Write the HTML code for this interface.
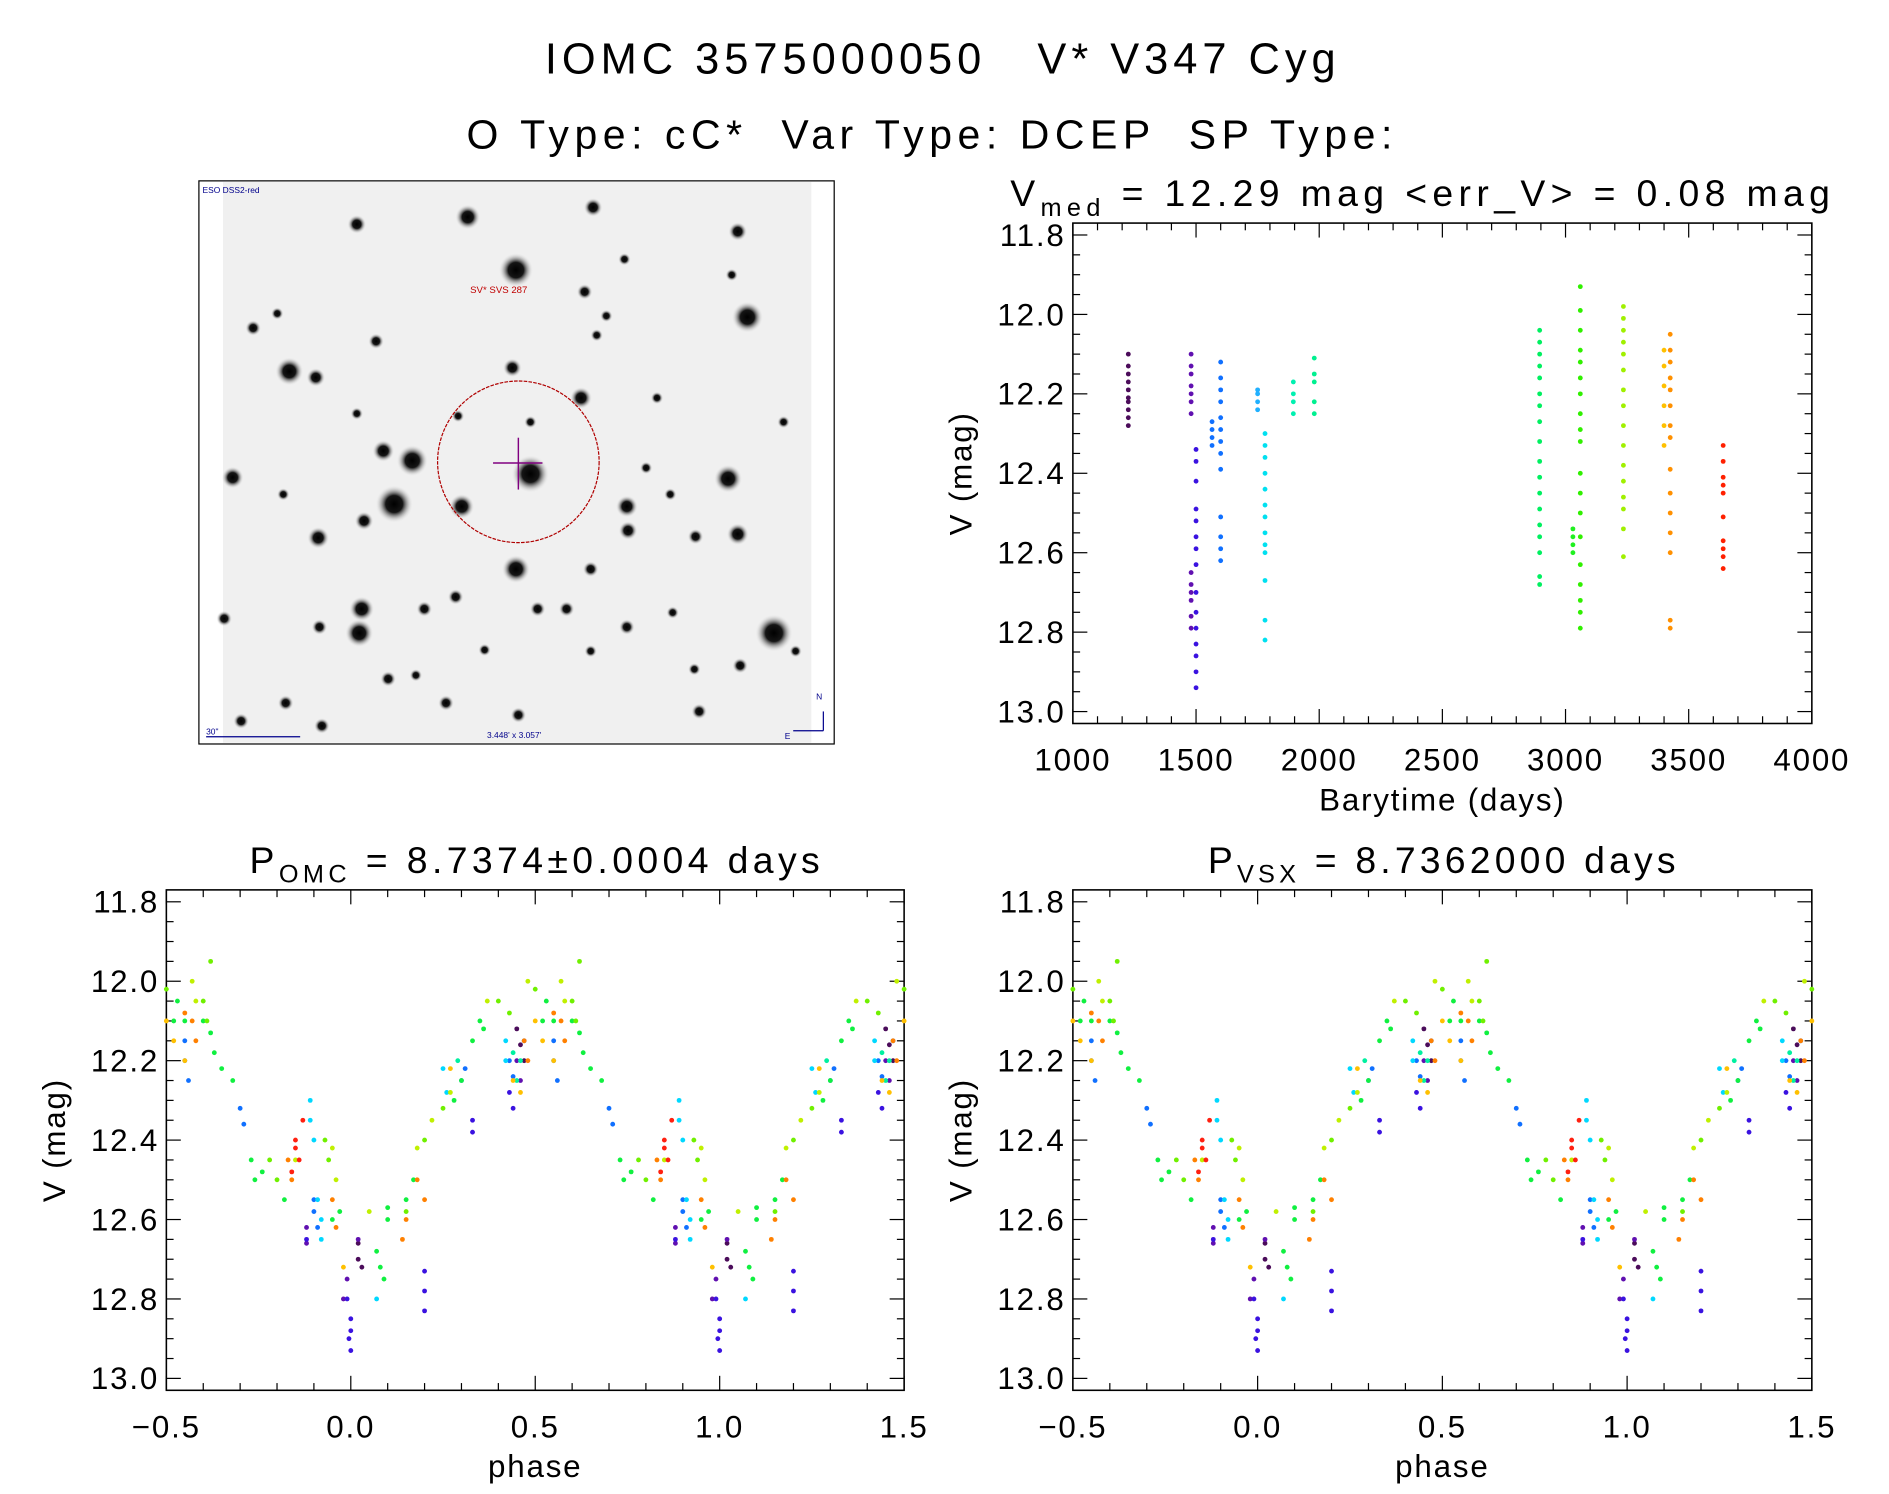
<!DOCTYPE html>
<html><head><meta charset="utf-8"><style>
html,body{margin:0;padding:0;background:#fff;}
svg{display:block;font-family:"Liberation Sans","DejaVu Sans",sans-serif;}
</style></head><body>
<svg id="fig" width="1889" height="1494" viewBox="0 0 1567 1239" preserveAspectRatio="none" xmlns="http://www.w3.org/2000/svg">
<defs>
<radialGradient id="star"><stop offset="0" stop-color="#000"/><stop offset="0.45" stop-color="#151515"/><stop offset="1" stop-color="#f0f0f0" stop-opacity="0"/></radialGradient>
</defs>
<text x="452" y="61" textLength="656" lengthAdjust="spacing" font-size="36" xml:space="preserve">IOMC 3575000050   V* V347 Cyg</text>
<text x="387" y="123" textLength="768" lengthAdjust="spacing" font-size="34" xml:space="preserve">O Type: cC*  Var Type: DCEP  SP Type:</text>
<g id="img"></g>
<g id="top"></g>
<g id="bl"></g>
<g id="br"></g>
</svg>
<script>
// ---- time-series data (Barytime days, V mag) ----
const seasonTimes=[1225,1480,1500,1565,1600,1750,1780,1895,1980,2895,3030,3060,3235,3400,3425,3640];
const seasonColors=["#4b0c5a","#6010b0","#3a12e0","#1070ff","#1070ff","#20b0ff","#00e0f0","#00f0b0","#00f090","#00f060","#20f020","#30f000","#a0f000","#ffc000","#ff9000","#ff2000"];
const seasonMags=[
[12.10,12.13,12.15,12.17,12.19,12.21,12.22,12.24,12.26,12.28],
[12.10,12.13,12.15,12.18,12.20,12.22,12.25,12.65,12.68,12.70,12.72,12.76,12.79],
[12.34,12.37,12.42,12.49,12.52,12.56,12.59,12.63,12.70,12.75,12.79,12.83,12.86,12.90,12.94],
[12.27,12.29,12.31,12.33],
[12.12,12.16,12.19,12.22,12.26,12.29,12.32,12.35,12.39,12.51,12.56,12.59,12.62],
[12.19,12.20,12.22,12.24],
[12.30,12.33,12.36,12.40,12.44,12.48,12.51,12.55,12.58,12.60,12.67,12.77,12.82],
[12.17,12.20,12.22,12.25],
[12.11,12.15,12.17,12.22,12.25],
[12.04,12.07,12.10,12.13,12.16,12.20,12.23,12.27,12.32,12.37,12.41,12.45,12.49,12.53,12.56,12.60,12.66,12.68],
[12.54,12.56,12.58,12.60],
[11.93,11.99,12.04,12.09,12.12,12.16,12.20,12.25,12.29,12.32,12.40,12.45,12.50,12.56,12.63,12.68,12.72,12.75,12.79],
[11.98,12.01,12.04,12.07,12.10,12.14,12.19,12.23,12.28,12.33,12.38,12.42,12.46,12.49,12.54,12.61],
[12.09,12.13,12.18,12.23,12.28,12.33],
[12.05,12.09,12.12,12.16,12.19,12.23,12.28,12.31,12.39,12.45,12.50,12.55,12.60,12.77,12.79],
[12.33,12.37,12.41,12.43,12.45,12.51,12.57,12.59,12.61,12.64]
];
// ---- phase-folded data: per color group, phase (0..1) and mag ----
const groupColors=["#4b0c5a","#6010b0","#3a12e0","#1070ff","#00d8ff","#00f0a0","#10f040","#70f000","#c0f000","#ffc000","#ff8000","#ff2010"];
const groupPhases=[
[0.45,0.46,0.47,0.02,0.02,0.03],
[0.98,0.99,0.88,0.88,0.02,0.45,0.46],
[0.0,0.0,0.995,1.0,0.99,0.2,0.2,0.2,0.33,0.33,0.43,0.44,0.88],
[0.55,0.55,0.56,0.7,0.71,0.9,0.9,0.91,0.3,0.31,0.43,0.44,0.47],
[0.89,0.89,0.9,0.91,0.92,0.92,0.07,0.25,0.26,0.42,0.42],
[0.45,0.46,0.44,0.29],
[0.6,0.62,0.63,0.65,0.68,0.73,0.74,0.76,0.82,0.95,0.97,0.07,0.08,0.09,0.1,0.1,0.15,0.17,0.28,0.3,0.33,0.35,0.36,0.52,0.53,0.55],
[0.6,0.61,0.62,0.78,0.8,0.93,0.94,0.15,0.2,0.25,0.4,0.43,0.5],
[0.57,0.58,0.85,0.95,0.96,0.05,0.18,0.22,0.27,0.37,0.48],
[0.5,0.52,0.55,0.44,0.46,0.98,0.27],
[0.55,0.57,0.58,0.47,0.48,0.83,0.84,0.95,0.96,0.15,0.18,0.2,0.14],
[0.85,0.85,0.86,0.87,0.84]
];
const groupMags=[
[12.12,12.16,12.2,12.66,12.7,12.72],
[12.8,12.75,12.62,12.66,12.65,12.2,12.25],
[12.85,12.88,12.9,12.93,12.8,12.73,12.78,12.83,12.35,12.38,12.28,12.32,12.65],
[12.15,12.2,12.25,12.32,12.36,12.55,12.58,12.62,12.25,12.22,12.2,12.24,12.15],
[12.3,12.35,12.4,12.55,12.6,12.65,12.8,12.22,12.28,12.15,12.2],
[12.25,12.2,12.18,12.2],
[12.1,12.13,12.18,12.22,12.25,12.45,12.5,12.48,12.55,12.6,12.58,12.68,12.72,12.75,12.6,12.57,12.55,12.5,12.3,12.25,12.15,12.1,12.12,12.1,12.05,12.1],
[12.05,12.1,11.95,12.45,12.5,12.4,12.45,12.58,12.4,12.32,12.05,12.08,12.02],
[12.0,12.05,12.45,12.42,12.5,12.58,12.42,12.35,12.28,12.05,12.0],
[12.1,12.15,12.2,12.25,12.28,12.72,12.22],
[12.08,12.1,12.15,12.15,12.2,12.45,12.5,12.55,12.62,12.6,12.5,12.55,12.65],
[12.4,12.42,12.45,12.35,12.48]
];
const magTicks=[11.8,12.0,12.2,12.4,12.6,12.8,13.0];
const timeTicks=[1000,1500,2000,2500,3000,3500,4000];
const phaseTicks=[-0.5,0.0,0.5,1.0,1.5];

const NS="http://www.w3.org/2000/svg";
function mk(tag,attrs,parent,text){const e=document.createElementNS(NS,tag);for(const k in attrs)e.setAttribute(k,attrs[k]);if(text!==undefined)e.textContent=text;parent.appendChild(e);return e;}

function panel(g,x0,x1,y0,y1,xmin,xmax,xTicks,xFmt,xMinorStep,title,sub,rest,xlabel,titleX,titleLen){
  const ymin=11.77,ymax=13.03;
  const sx=v=>x0+(v-xmin)/(xmax-xmin)*(x1-x0);
  const sy=v=>y0+(v-ymin)/(ymax-ymin)*(y1-y0);
  const frame=mk('rect',{x:x0,y:y0,width:x1-x0,height:y1-y0,fill:'none',stroke:'#000','stroke-width':1.3},g);
  
  
  for(let m=11.8;m<=13.001;m+=0.05){
    const major=Math.abs(Math.round(m*5)-m*5)<1e-6;
    const L=major?12:6;const y=sy(m);
    mk('line',{x1:x0,x2:x0+L,y1:y,y2:y,stroke:'#000','stroke-width':1},g);
    mk('line',{x1:x1,x2:x1-L,y1:y,y2:y,stroke:'#000','stroke-width':1},g);
  }
  magTicks.forEach(m=>{
    const t=mk('text',{x:x0-6,y:sy(m)+9,'text-anchor':'end','font-size':26,'letter-spacing':1.5},g,m.toFixed(1));
    
    
  });
  for(let v=xmin;v<=xmax+1e-9;v+=xMinorStep){
    const major=xTicks.some(t=>Math.abs(t-v)<1e-6);const L=major?12:6;const x=sx(v);
    mk('line',{x1:x,x2:x,y1:y1,y2:y1-L,stroke:'#000','stroke-width':1},g);
    mk('line',{x1:x,x2:x,y1:y0,y2:y0+L,stroke:'#000','stroke-width':1},g);
  }
  xTicks.forEach(v=>{
    const t=mk('text',{x:sx(v),y:y1+39,'text-anchor':'middle','font-size':26,'letter-spacing':1.5},g,xFmt(v));
    
    
  });
  const xl=mk('text',{x:(x0+x1)/2,y:y1+72,'text-anchor':'middle','font-size':26,'letter-spacing':1.5},g,xlabel);
  
  
  const yl=mk('text',{x:0,y:0,'text-anchor':'middle','font-size':26,'letter-spacing':1.5,transform:`translate(${x0-84},${(y0+y1)/2}) rotate(-90)`},g,'V (mag)');
  
  
  const tt=mk('text',{x:titleX,y:y0-14,'font-size':31,textLength:titleLen,lengthAdjust:'spacing','xml:space':'preserve'},g);
  
  
  mk('tspan',{},tt,title);
  mk('tspan',{'font-size':21,dy:8},tt,sub);
  mk('tspan',{dy:-8},tt,rest);
  return {sx,sy};
}

(function(){
  const g=document.getElementById('top');
  const ax=panel(g,890,1503,185,600,1000,4000,timeTicks,v=>String(v),100,'V','med',' = 12.29 mag <err_V> = 0.08 mag','Barytime (days)',838,680);
  seasonTimes.forEach((t,i)=>{
    seasonMags[i].forEach(m=>{
      const c=mk('circle',{cx:ax.sx(t),cy:ax.sy(m),r:2,fill:seasonColors[i]},g);
      
      
    });
  });
})();

function phasePanel(id,x0,x1,title,sub,rest,tx,tl){
  const g=document.getElementById(id);
  const ax=panel(g,x0,x1,738,1153,-0.5,1.5,phaseTicks,v=>(v<0?'\u2212':'')+Math.abs(v).toFixed(1),0.1,title,sub,rest,'phase',tx,tl);
  groupPhases.forEach((ph,i)=>{
    ph.forEach((p,j)=>{
      [-1,0,1].forEach(k=>{
        const q=p+k;if(q<-0.5||q>1.5)return;
        const c=mk('circle',{cx:ax.sx(q),cy:ax.sy(groupMags[i][j]),r:2,fill:groupColors[i]},g);
        
        
      });
    });
  });
}
phasePanel('bl',138,750,'P','OMC',' = 8.7374\u00b10.0004 days',207,473);
phasePanel('br',890,1503,'P','VSX',' = 8.7362000 days',1002,388);

(function(){
  const g=document.getElementById('img');
  mk('rect',{x:165,y:150,width:527,height:467,fill:'#fff',stroke:'#000','stroke-width':1},g);
  mk('rect',{x:185,y:151,width:488,height:465,fill:'#f0f0f0'},g);
  const stars=[[388,180,8],[492,172,6],[296,186,6],[428,224,11],[612,192,6],[620,263,10],[210,272,5],[240,308,9],[262,313,6],[312,283,5],[485,242,5],[518,215,4],[482,330,7],[425,305,6],[318,374,7],[342,382,10],[440,393,12],[193,396,7],[327,418,12],[383,420,8],[302,432,6],[264,446,7],[235,410,4],[604,397,9],[520,420,7],[521,440,6],[612,443,7],[428,472,9],[490,472,5],[577,445,5],[300,505,8],[298,525,9],[265,520,5],[352,505,5],[446,505,5],[470,505,5],[642,525,12],[660,540,4],[378,495,5],[186,513,5],[237,583,5],[580,590,5],[558,508,4],[520,520,5],[370,583,5],[322,563,5],[490,540,4],[402,539,4],[430,593,5],[267,602,5],[200,598,5],[495,278,4],[503,262,4],[545,330,4],[650,350,4],[296,343,4],[380,345,4],[536,388,4],[556,410,4],[576,555,4],[614,552,5],[345,560,4],[440,350,4],[230,260,4],[607,228,4]];
  stars.forEach(s=>{
    const c=mk('circle',{cx:s[0],cy:s[1],r:s[2]*1.3,fill:'url(#star)'},g);
    
    
  });
  mk('ellipse',{cx:430,cy:383,rx:67,ry:67,fill:'none',stroke:'#b00000','stroke-width':1,'stroke-dasharray':'3,1'},g);
  mk('line',{x1:430,x2:430,y1:363,y2:406,stroke:'#800080','stroke-width':1.2},g);
  mk('line',{x1:409,x2:450,y1:384,y2:384,stroke:'#800080','stroke-width':1.2},g);
  mk('text',{x:390,y:243,'font-size':8,fill:'#c00000'},g,'SV* SVS 287');
  mk('text',{x:168,y:160,'font-size':7,fill:'#00008b'},g,'ESO DSS2-red');
  mk('text',{x:171,y:609,'font-size':7,fill:'#00008b'},g,'30"');
  mk('line',{x1:171,x2:249,y1:611,y2:611,stroke:'#00008b'},g);
  mk('text',{x:404,y:612,'font-size':7,fill:'#00008b'},g,'3.448\' x 3.057\'');
  mk('line',{x1:683,x2:683,y1:590,y2:606,stroke:'#00008b'},g);
  mk('line',{x1:658,x2:683,y1:606,y2:606,stroke:'#00008b'},g);
  mk('text',{x:677,y:580,'font-size':7,fill:'#00008b'},g,'N');
  mk('text',{x:651,y:613,'font-size':7,fill:'#00008b'},g,'E');
})();
</script>
</body></html>
